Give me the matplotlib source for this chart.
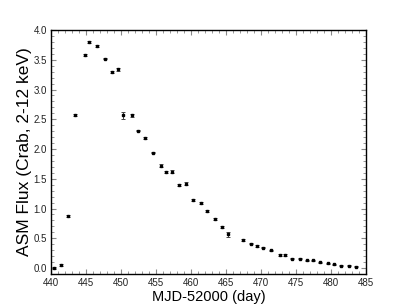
import matplotlib
matplotlib.use("Agg")
import matplotlib.pyplot as plt
from matplotlib.ticker import MultipleLocator, FormatStrFormatter

mjd = [440.5, 441.5, 442.4, 443.4, 444.8, 445.4, 446.6, 447.7, 448.7, 449.6,
       450.3, 451.6, 452.4, 453.5, 454.6, 455.7, 456.5, 457.3, 458.3, 459.3,
       460.3, 461.4, 462.3, 463.4, 464.5, 465.3, 467.4, 468.6, 469.5, 470.3,
       471.5, 472.7, 473.4, 474.5, 475.6, 476.6, 477.5, 478.4, 479.6, 480.4,
       481.4, 482.6, 483.6]
flux = [0.00, 0.05, 0.87, 2.57, 3.58, 3.80, 3.73, 3.52, 3.29, 3.34,
        2.57, 2.57, 2.31, 2.19, 1.94, 1.72, 1.61, 1.62, 1.40, 1.42,
        1.14, 1.09, 0.96, 0.83, 0.69, 0.57, 0.47, 0.41, 0.37, 0.34,
        0.30, 0.22, 0.22, 0.16, 0.16, 0.13, 0.13, 0.10, 0.08, 0.06,
        0.04, 0.04, 0.02]
flux_err = [0.01, 0.01, 0.015, 0.015, 0.015, 0.02, 0.015, 0.015, 0.015, 0.03,
            0.06, 0.025, 0.015, 0.02, 0.015, 0.025, 0.015, 0.025, 0.02, 0.03,
            0.02, 0.015, 0.02, 0.015, 0.015, 0.04, 0.015, 0.01, 0.01, 0.01,
            0.01, 0.02, 0.015, 0.01, 0.01, 0.01, 0.01, 0.01, 0.01, 0.01,
            0.01, 0.01, 0.01]

plt.rcParams['font.family'] = ['Liberation Sans', 'DejaVu Sans']
fig = plt.figure(figsize=(4.07, 3.05), dpi=100)
ax = fig.add_axes([0.1253, 0.1016, 0.7737, 0.80])

ax.errorbar(mjd, flux, yerr=flux_err, fmt='s', color='black', ms=1.6,
            ecolor='#444444', elinewidth=0.7, capsize=1.6, capthick=0.7)

ax.set_xlim(440, 485)
ax.set_ylim(-0.1, 4.0)
ax.xaxis.set_major_locator(MultipleLocator(5))
ax.xaxis.set_minor_locator(MultipleLocator(1))
ax.yaxis.set_major_locator(MultipleLocator(0.5))
ax.yaxis.set_minor_locator(MultipleLocator(0.1))
ax.yaxis.set_major_formatter(FormatStrFormatter('%.1f'))
ax.tick_params(which='both', direction='in', top=True, right=True,
               labelsize=7, labelcolor='#222222', color='#888888')
ax.tick_params(which='major', length=3.5, width=0.8, pad=3)
ax.tick_params(which='minor', length=2, width=0.6)
for s in ax.spines.values():
    s.set_linewidth(1.0)

ax.set_xlabel('MJD-52000 (day)', fontsize=10.5, labelpad=1)
ax.set_ylabel('ASM Flux (Crab, 2-12 keV)', fontsize=12.5, labelpad=1)

fig.savefig('out.png', dpi=100)
